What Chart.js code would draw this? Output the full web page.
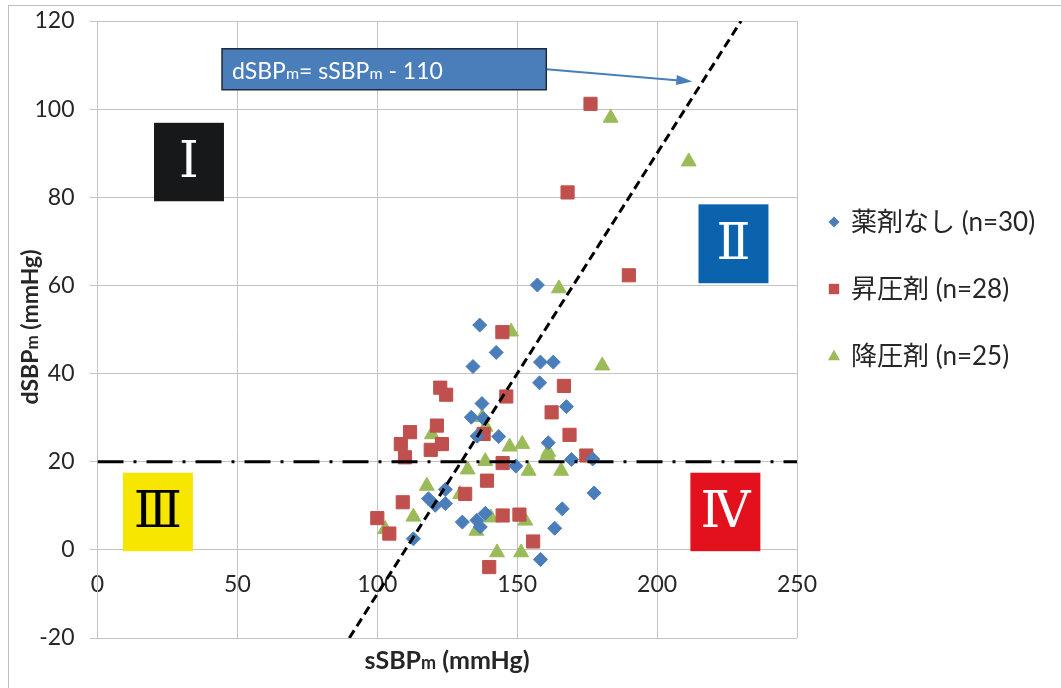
<!DOCTYPE html>
<html lang="ja">
<head>
<meta charset="utf-8">
<title>sSBPm と dSBPm</title>
<script src="https://cdn.jsdelivr.net/npm/chart.js@4/dist/chart.umd.min.js"></script>
<style>
  html, body { margin: 0; padding: 0; background: #fff; }
  #wrap { width: 1061px; height: 688px; }
</style>
</head>
<body>
<div id="wrap"><canvas id="chart" width="1061" height="688"></canvas></div>
<script>
// axis ticks
const xTickValues = [0, 50, 100, 150, 200, 250];
const yTickValues = [-20, 0, 20, 40, 60, 80, 100, 120];

const seriesNames = ['薬剤なし (n=30)', '昇圧剤 (n=28)', '降圧剤 (n=25)'];

// 薬剤なし
const noneX = [136.6, 142.5, 134.2, 157.2, 158.3, 162.9, 158.0, 167.6, 137.4, 133.6,
               135.7, 143.4, 161.1, 149.5, 169.4, 177.0, 177.5, 166.1, 163.4, 158.3,
               118.3, 124.3, 120.7, 124.3, 112.9, 130.4, 135.6, 136.8, 138.6, 137.9];
const noneY = [51.0, 44.8, 41.6, 60.1, 42.6, 42.6, 37.9, 32.5, 33.2, 30.1,
               25.8, 25.7, 24.3, 19.0, 20.5, 20.6, 12.9, 9.3, 4.9, -2.2,
               11.6, 13.7, 10.1, 10.5, 2.5, 6.3, 6.7, 5.2, 8.3, 29.8];

// 昇圧剤
const pressorX = [176.2, 168.0, 189.9, 144.7, 146.1, 166.7, 162.3, 168.7, 174.7, 122.5,
                  124.6, 121.3, 111.7, 108.4, 123.1, 119.1, 109.9, 138.0, 144.8, 139.2,
                  131.4, 109.1, 100.0, 104.3, 144.8, 150.8, 155.7, 140.0];
const pressorY = [101.2, 81.1, 62.3, 49.4, 34.8, 37.2, 31.2, 26.1, 21.4, 36.8,
                  35.2, 28.2, 26.7, 24.0, 24.0, 22.7, 21.0, 26.3, 19.7, 15.7,
                  12.7, 10.8, 7.2, 3.7, 7.8, 8.0, 1.9, -3.9];

// 降圧剤
const depressorX = [183.4, 211.3, 164.9, 180.4, 147.8, 137.5, 138.7, 119.5, 147.3, 151.8,
                    161.1, 138.6, 132.3, 154.1, 165.7, 129.6, 117.7, 112.9, 102.8, 135.4,
                    140.6, 152.9, 142.8, 151.4, 160.8];
const depressorY = [98.0, 88.1, 59.3, 41.8, 49.5, 30.1, 27.9, 26.2, 23.4, 24.0,
                    22.2, 20.1, 18.2, 17.9, 17.9, 12.6, 14.5, 7.5, 4.7, 4.3,
                    7.3, 6.6, -0.6, -0.6, 21.5];

// reference lines: dSBPm = sSBPm - 110 and dSBPm = 20
const diagX = [90, 230];
const diagY = [-20, 120];
const cutX = [0, 250];
const cutY = [20, 20];

const quadrantLabels = ['Ⅰ', 'Ⅱ', 'Ⅲ', 'Ⅳ'];

const FONT = "Lato, 'Noto Sans CJK JP', sans-serif";
const TEXT = '#262626';
const GRID = '#c4c4c4';
const COLORS = ['#4a7ebb', '#c0504d', '#9bbb59'];
const STYLES = ['rectRot', 'rect', 'triangle'];
const RADII = [7, 9.3, 8.6];

const toPoints = (xs, ys) => xs.map((x, i) => ({ x, y: ys[i] }));

// draws a run of [text, fontSize, bold] pieces left to right on one baseline
function drawRich(ctx, parts, x, y) {
  parts.forEach(([text, size, bold]) => {
    ctx.font = `${bold ? 'bold ' : ''}${size}px ${FONT}`;
    ctx.fillText(text, x, y);
    x += ctx.measureText(text).width;
  });
}

function richWidth(ctx, parts) {
  return parts.reduce((w, [text, size, bold]) => {
    ctx.font = `${bold ? 'bold ' : ''}${size}px ${FONT}`;
    return w + ctx.measureText(text).width;
  }, 0);
}

function drawMarker(ctx, style, x, y, r, color) {
  ctx.fillStyle = color;
  ctx.beginPath();
  if (style === 'rectRot') {
    ctx.moveTo(x - r, y); ctx.lineTo(x, y - r); ctx.lineTo(x + r, y); ctx.lineTo(x, y + r);
  } else if (style === 'rect') {
    ctx.rect(x - r, y - r, 2 * r, 2 * r);
  } else {
    ctx.moveTo(x, y - r * 1.1); ctx.lineTo(x + r, y + r * 0.7); ctx.lineTo(x - r, y + r * 0.7);
  }
  ctx.closePath();
  ctx.fill();
}

const overlayPlugin = {
  id: 'overlay',
  afterDatasetsDraw(chart) {
    const { ctx, scales: { x, y } } = chart;
    ctx.save();

    // quadrant tags
    const boxes = [
      { x0: 20.2, x1: 45.2, y0: 96.9, y1: 79.1, fill: '#161819', color: '#fff' },
      { x0: 214.8, x1: 239.8, y0: 78.4, y1: 60.5, fill: '#0b63ae', color: '#fff' },
      { x0: 9.1, x1: 34.1, y0: 17.5, y1: -0.3, fill: '#f7e600', color: '#000' },
      { x0: 211.9, x1: 236.9, y0: 17.5, y1: -0.3, fill: '#e3101d', color: '#fff' }
    ];
    boxes.forEach((b, i) => {
      const l = x.getPixelForValue(b.x0), r = x.getPixelForValue(b.x1);
      const t = y.getPixelForValue(b.y0), btm = y.getPixelForValue(b.y1);
      ctx.fillStyle = b.fill;
      ctx.fillRect(l, t, r - l, btm - t);
      ctx.fillStyle = b.color;
      ctx.font = `50px 'DejaVu Serif', 'Liberation Serif', serif`;
      ctx.textAlign = 'center';
      ctx.textBaseline = 'middle';
      ctx.fillText(quadrantLabels[i], (l + r) / 2, (t + btm) / 2 + 2);
    });

    // equation callout with arrow
    const bl = x.getPixelForValue(44.5), br = x.getPixelForValue(160.4);
    const bt = y.getPixelForValue(113.7), bb = y.getPixelForValue(104.4);
    const tipX = x.getPixelForValue(212.6), tipY = y.getPixelForValue(106.3);
    const tailY = (bt + bb) / 2;
    ctx.strokeStyle = '#4a7ebb';
    ctx.lineWidth = 2;
    ctx.beginPath();
    ctx.moveTo(br, tailY);
    ctx.lineTo(tipX - 10, tipY - 0.7);
    ctx.stroke();
    const ang = Math.atan2(tipY - tailY, tipX - br);
    ctx.fillStyle = '#4a7ebb';
    ctx.beginPath();
    ctx.moveTo(tipX, tipY);
    ctx.lineTo(tipX - 16 * Math.cos(ang) + 5 * Math.sin(ang), tipY - 16 * Math.sin(ang) - 5 * Math.cos(ang));
    ctx.lineTo(tipX - 16 * Math.cos(ang) - 5 * Math.sin(ang), tipY - 16 * Math.sin(ang) + 5 * Math.cos(ang));
    ctx.closePath();
    ctx.fill();

    ctx.fillStyle = '#4a7ebb';
    ctx.fillRect(bl, bt, br - bl, bb - bt);
    ctx.strokeStyle = '#1f2a3a';
    ctx.lineWidth = 1.5;
    ctx.strokeRect(bl, bt, br - bl, bb - bt);
    ctx.fillStyle = '#fff';
    ctx.textAlign = 'left';
    ctx.textBaseline = 'alphabetic';
    drawRich(ctx, [['dSBP', 23], ['m', 16], ['= sSBP', 23], ['m', 16], [' - 110', 23]], bl + 10, bt + 30);

    ctx.restore();
  },
  afterDraw(chart) {
    const { ctx } = chart;
    ctx.save();

    // outer frame
    ctx.strokeStyle = '#bdbdbd';
    ctx.lineWidth = 1;
    ctx.strokeRect(8.5, 5.5, 1100, 720);

    // axis titles
    ctx.fillStyle = TEXT;
    ctx.textBaseline = 'alphabetic';
    ctx.textAlign = 'left';
    const xTitle = [['sSBP', 25, true], ['m', 18, true], [' (mmHg)', 25, true]];
    const xw = richWidth(ctx, xTitle);
    drawRich(ctx, xTitle, 447 - xw / 2, 669);

    const yTitle = [['dSBP', 23, true], ['m', 17, true], [' (mmHg)', 23, true]];
    const yw = richWidth(ctx, yTitle);
    ctx.translate(38, 327);
    ctx.rotate(-Math.PI / 2);
    drawRich(ctx, yTitle, -yw / 2, 0);
    ctx.setTransform(1, 0, 0, 1, 0, 0);

    // legend
    const rowY = [222, 289, 356];
    const mr = [5.5, 5.2, 6];
    seriesNames.forEach((name, i) => {
      drawMarker(ctx, STYLES[i], 834, rowY[i], mr[i], COLORS[i]);
      ctx.fillStyle = TEXT;
      ctx.font = `26px ${FONT}`;
      ctx.textBaseline = 'middle';
      ctx.fillText(name, 851, rowY[i] + 1);
    });

    ctx.restore();
  }
};

const scatterSet = (label, xs, ys, i) => ({
  label,
  data: toPoints(xs, ys),
  pointStyle: STYLES[i],
  pointRadius: RADII[i],
  backgroundColor: COLORS[i],
  borderColor: COLORS[i],
  borderWidth: 1,
  order: 2
});

new Chart(document.getElementById('chart'), {
  type: 'scatter',
  data: {
    datasets: [
      {
        label: 'dSBPm = sSBPm - 110',
        data: toPoints(diagX, diagY),
        showLine: true,
        pointRadius: 0,
        borderColor: '#000',
        borderWidth: 3,
        borderDash: [9, 5],
        order: 0
      },
      {
        label: 'dSBPm = 20',
        data: toPoints(cutX, cutY),
        showLine: true,
        pointRadius: 0,
        borderColor: '#000',
        borderWidth: 3,
        borderDash: [26, 10, 3, 10],
        order: 1
      },
      scatterSet(seriesNames[0], noneX, noneY, 0),
      scatterSet(seriesNames[1], pressorX, pressorY, 1),
      scatterSet(seriesNames[2], depressorX, depressorY, 2)
    ]
  },
  options: {
    responsive: false,
    devicePixelRatio: 1,
    animation: false,
    events: [],
    layout: { padding: { left: 8, right: 264, top: 21, bottom: 50 } },
    plugins: {
      legend: { display: false },
      tooltip: { enabled: false }
    },
    scales: {
      x: {
        type: 'linear',
        position: { y: 0 },
        min: 0,
        max: 250,
        afterBuildTicks: s => { s.ticks = xTickValues.map(v => ({ value: v })); },
        grid: { color: GRID, drawTicks: false },
        border: { color: GRID },
        ticks: { color: TEXT, font: { family: FONT, size: 23 }, padding: 21 }
      },
      y: {
        type: 'linear',
        min: -20,
        max: 120,
        afterBuildTicks: s => { s.ticks = yTickValues.map(v => ({ value: v })); },
        afterFit: s => {
          s.width = 89.5;
          // let the padding alone decide where the plot top sits
          s.paddingTop = 0;
          s.paddingBottom = 0;
        },
        grid: { color: GRID, tickLength: 8 },
        border: { color: GRID },
        ticks: { color: TEXT, font: { family: FONT, size: 23 }, padding: 15 }
      }
    }
  },
  plugins: [overlayPlugin]
});
</script>
</body>
</html>
